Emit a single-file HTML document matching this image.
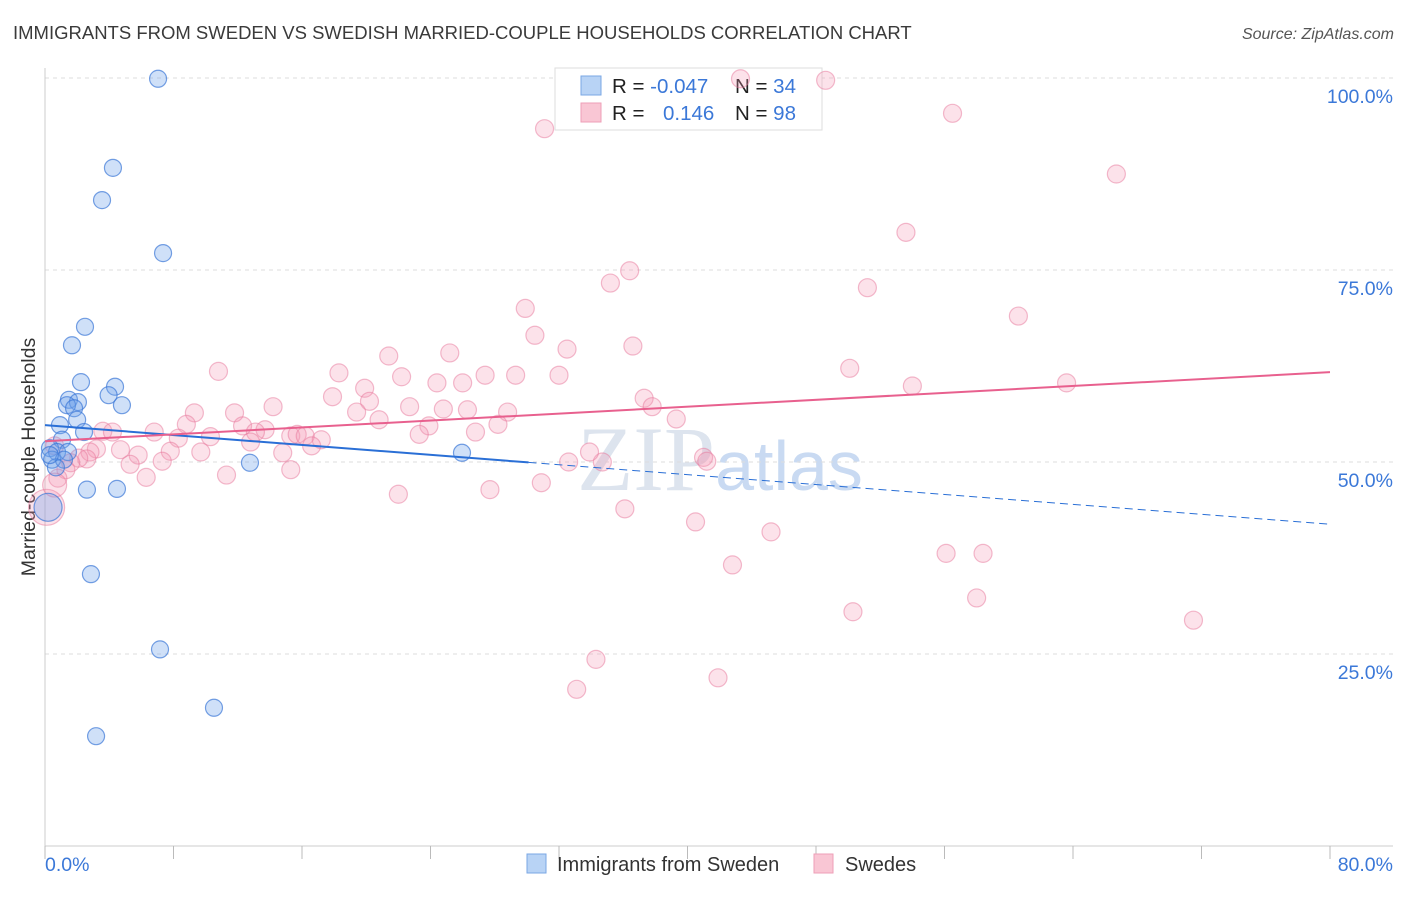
<!DOCTYPE html>
<html><head><meta charset="utf-8"><style>
body{margin:0;background:#fff;font-family:"Liberation Sans",sans-serif}
</style></head><body>
<svg id="chart" width="1406" height="892" xmlns="http://www.w3.org/2000/svg" font-family="Liberation Sans, sans-serif">
<text x="13" y="39" font-size="18.5" fill="#3a3a3a">IMMIGRANTS FROM SWEDEN VS SWEDISH MARRIED-COUPLE HOUSEHOLDS CORRELATION CHART</text>
<text x="1394" y="39" font-size="16" fill="#555" font-style="italic" text-anchor="end">Source: ZipAtlas.com</text>
<text transform="translate(35,457) rotate(-90)" font-size="19.5" fill="#333" text-anchor="middle">Married-couple Households</text>
<text x="720" y="490" font-size="92" fill="#dde4ee" text-anchor="middle" font-family="Liberation Serif, serif">ZIP<tspan fill="#c9daf2" font-family="Liberation Sans, sans-serif" font-size="70">atlas</tspan></text>
<g id="grid"></g><g id="axes"></g>
<g>
<rect x="555" y="68" width="267" height="62" fill="#fff" stroke="#ddd"/>
<rect x="581" y="76" width="20" height="19" fill="#b8d3f5" stroke="#7aa7e4"/>
<rect x="581" y="103" width="20" height="19" fill="#f9c6d4" stroke="#ee9fb7"/>
<text x="612" y="93" font-size="20.5" fill="#222">R = <tspan fill="#3b78d8">-0.047</tspan></text>
<text x="735" y="93" font-size="20.5" fill="#222">N = <tspan fill="#3b78d8">34</tspan></text>
<text x="612" y="120" font-size="20.5" fill="#222">R = <tspan fill="#3b78d8" x="663">0.146</tspan></text>
<text x="735" y="120" font-size="20.5" fill="#222">N = <tspan fill="#3b78d8">98</tspan></text>
</g>
<g id="pts"></g><g id="lines"></g>
<g>
<rect x="527" y="854" width="19" height="19" fill="#b8d3f5" stroke="#7aa7e4"/>
<text x="557" y="871" font-size="20" fill="#333">Immigrants from Sweden</text>
<rect x="814" y="854" width="19" height="19" fill="#f9c6d4" stroke="#ee9fb7"/>
<text x="845" y="871" font-size="20" fill="#333">Swedes</text>
</g>
</svg>
<script>
const xTicks=[0,8,16,24,32,40,48,56,64,72,80];
const yTicks=[25,50,75,100];
const yTickLabels=["25.0%","50.0%","75.0%","100.0%"];
const xEndLabels=["0.0%","80.0%"];
const blueX=[7.04,4.23,3.55,7.35,2.49,1.68,2.24,4.36,3.96,4.79,1.49,2.05,1.37,1.81,2.0,0.93,2.43,1.06,0.31,0.75,1.43,0.44,1.18,0.68,12.76,25.96,2.61,4.48,2.86,7.16,10.52,3.18,0.19,0.3];
const blueY=[99.9,88.3,84.1,77.2,67.6,65.2,60.4,59.8,58.7,57.4,58.1,57.8,57.4,57.0,55.5,54.8,53.9,52.9,51.8,51.3,51.3,50.3,50.3,49.3,49.9,51.2,46.4,46.5,35.4,25.6,18.0,14.3,44.1,50.9];
const pinkX=[43.3,48.6,31.1,56.5,66.7,53.6,36.4,35.2,51.2,29.9,60.6,30.5,32.5,36.6,21.4,25.2,10.8,50.1,18.3,22.2,27.4,29.3,32.0,24.4,26.0,63.6,54.0,19.9,17.9,37.3,20.2,22.7,14.2,9.3,11.8,26.3,24.8,37.8,19.4,28.8,20.8,28.2,8.8,23.9,39.3,12.3,13.7,6.8,3.6,4.2,13.1,15.3,10.3,23.3,26.8,8.3,15.7,16.2,17.2,12.8,16.6,0.6,3.2,4.7,9.7,2.8,14.8,5.8,7.8,2.6,2.1,1.6,1.3,5.3,7.3,34.7,32.6,33.9,41.0,41.2,15.3,11.3,6.3,30.9,22.0,27.7,36.1,40.5,45.2,42.8,56.1,58.4,58.0,50.3,71.5,34.3,33.1,41.9,0.8,0.1,0.6];
const pinkY=[99.9,99.7,93.4,95.4,87.5,79.9,74.9,73.3,72.7,70.0,69.0,66.5,64.7,65.1,63.8,64.2,61.8,62.2,61.6,61.1,61.3,61.3,61.3,60.3,60.3,60.3,59.9,59.6,58.5,58.3,57.9,57.2,57.2,56.4,56.4,56.8,56.9,57.2,56.5,56.5,55.5,54.9,54.9,54.7,55.6,54.7,54.2,53.9,54.0,53.9,53.9,53.4,53.3,53.6,53.9,53.1,53.6,53.4,52.9,52.6,52.1,52.1,51.7,51.6,51.3,51.3,51.2,50.9,51.4,50.4,50.5,49.9,49.0,49.7,50.1,50.0,50.0,51.3,50.6,50.1,49.0,48.3,48.0,47.3,45.8,46.4,43.9,42.2,40.9,36.6,38.1,38.1,32.3,30.5,29.4,24.3,20.4,21.9,47.9,44.1,47.0];
const blueTrend=[54.8,41.9];
const pinkTrend=[52.7,61.7];
const blueSolidEnd=30.1;
const X0=45,X1=1330,Y0=846,Y1=78;
const sx=v=>X0+(v/80)*(X1-X0);
const sy=v=>Y0-(v/100)*(Y0-Y1);
const NS="http://www.w3.org/2000/svg";
function mk(t,a,p){const e=document.createElementNS(NS,t);for(const k in a)e.setAttribute(k,a[k]);p.appendChild(e);return e;}
const grid=document.getElementById('grid'),axes=document.getElementById('axes'),pts=document.getElementById('pts'),lines=document.getElementById('lines');
yTicks.forEach((t,i)=>{
 const g=mk('line',{x1:X0,x2:1393,y1:sy(t),y2:sy(t),stroke:'#ddd','stroke-dasharray':'4,4'},grid);
 
 
 const l=mk('text',{x:1393,y:sy(t)+25,'font-size':19.5,fill:'#3b78d8','text-anchor':'end'},grid);
 l.textContent=yTickLabels[i];
 
 
});
const xa=mk('line',{x1:X0,x2:1393,y1:Y0,y2:Y0,stroke:'#ccc'},axes);


const ya=mk('line',{x1:X0,x2:X0,y1:68,y2:Y0,stroke:'#ccc'},axes);


xTicks.forEach(t=>{
 const k=mk('line',{x1:sx(t),x2:sx(t),y1:Y0,y2:Y0+13,stroke:'#bbb'},axes);
 
 
});
[[0,'start',X0],[80,'end',1393]].forEach((d,i)=>{
 const l=mk('text',{x:d[2],y:871,'font-size':19.5,fill:'#3b78d8','text-anchor':d[1]},axes);
 l.textContent=xEndLabels[i];
 
 
});
pinkX.forEach((x,i)=>{
 const big=i===pinkX.length-2?18:(i===pinkX.length-1?12:9);
 const c=mk('circle',{cx:sx(x),cy:sy(pinkY[i]),r:big,fill:'rgba(244,150,180,0.28)',stroke:'rgba(232,120,155,0.5)','stroke-width':1.2},pts);
 
 
});
blueX.forEach((x,i)=>{
 const c=mk('circle',{cx:sx(x),cy:sy(blueY[i]),r:i===32?14:8.5,fill:'rgba(110,160,235,0.33)',stroke:'rgba(60,120,215,0.7)','stroke-width':1.2},pts);
 
 
});
const bAt=x=>blueTrend[0]+(blueTrend[1]-blueTrend[0])*x/80;
const bl=mk('line',{x1:sx(0),y1:sy(bAt(0)),x2:sx(blueSolidEnd),y2:sy(bAt(blueSolidEnd)),stroke:'#2a6fd6','stroke-width':2},lines);


const bd=mk('line',{x1:sx(blueSolidEnd),y1:sy(bAt(blueSolidEnd)),x2:sx(80),y2:sy(bAt(80)),stroke:'#2a6fd6','stroke-width':1,'stroke-dasharray':'8,5'},lines);


const pl=mk('line',{x1:sx(0),y1:sy(pinkTrend[0]),x2:sx(80),y2:sy(pinkTrend[1]),stroke:'#e8608e','stroke-width':2},lines);


</script>
</body></html>
